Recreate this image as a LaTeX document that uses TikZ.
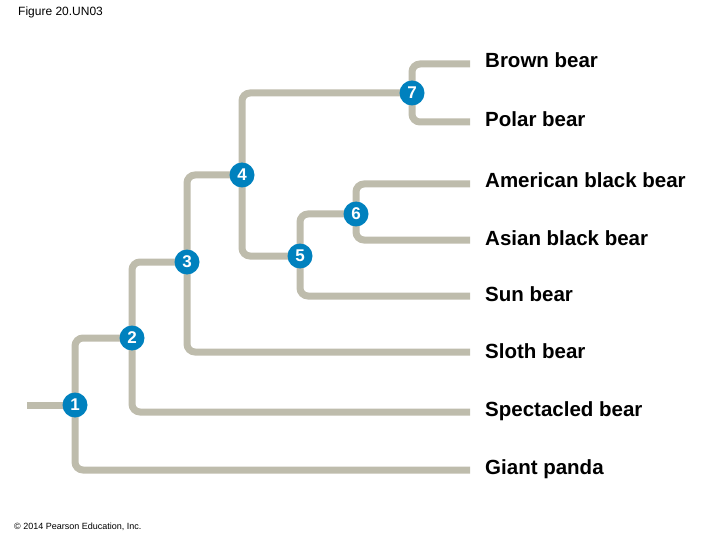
\documentclass[tikz,border=0pt]{standalone}
\usepackage{fontspec}
\setmainfont{Liberation Sans}
\usetikzlibrary{backgrounds}
\definecolor{branchgray}{RGB}{190,188,172}
\definecolor{nodeblue}{RGB}{0,129,190}
\tikzset{
  branch/.style={draw=branchgray, line width=7pt, rounded corners=8pt},
  numnode/.style={circle, fill=nodeblue, text=white, inner sep=0pt, minimum size=25pt,
    font=\fontsize{17}{17}\selectfont\bfseries},
  taxon/.style={anchor=base west, inner sep=0pt, font=\fontsize{20.5}{24}\selectfont\bfseries}
}
\begin{document}
\begin{tikzpicture}[x=1pt,y=-1pt]
\useasboundingbox (0,0) rectangle (720,540);
% internal nodes
\node[numnode] (n1) at (75,405) {1};
\node[numnode] (n2) at (132,338) {2};
\node[numnode] (n3) at (187,262) {3};
\node[numnode] (n4) at (242,175) {4};
\node[numnode] (n5) at (300,256) {5};
\node[numnode] (n6) at (356,214) {6};
\node[numnode] (n7) at (412,93) {7};
% branch tips
\coordinate (root) at (27,405);
\coordinate (tbrown) at (470,64);
\coordinate (tpolar) at (470,122);
\coordinate (tamer) at (470,184);
\coordinate (tasian) at (470,240);
\coordinate (tsun) at (470,296);
\coordinate (tsloth) at (470,352);
\coordinate (tspect) at (470,412);
\coordinate (tpanda) at (470,470);
% labels
\node[taxon] (lbrown) at (485,68) {Brown bear};
\node[taxon] (lpolar) at (485,127) {Polar bear};
\node[taxon] (lamer) at (485,188) {American black bear};
\node[taxon] (lasian) at (485,245) {Asian black bear};
\node[taxon] (lsun) at (485,301) {Sun bear};
\node[taxon] (lsloth) at (485,358) {Sloth bear};
\node[taxon] (lspect) at (485,416) {Spectacled bear};
\node[taxon] (lpanda) at (485,474) {Giant panda};
% branches
\begin{pgfonlayer}{background}
\draw[branch] (root) -- (n1.center);
\draw[branch] (n1.center) |- (n2.center);
\draw[branch] (n1.center) |- (tpanda);
\draw[branch] (n2.center) |- (n3.center);
\draw[branch] (n2.center) |- (tspect);
\draw[branch] (n3.center) |- (n4.center);
\draw[branch] (n3.center) |- (tsloth);
\draw[branch] (n4.center) |- (n7.center);
\draw[branch] (n4.center) |- (n5.center);
\draw[branch] (n5.center) |- (n6.center);
\draw[branch] (n5.center) |- (tsun);
\draw[branch] (n6.center) |- (tamer);
\draw[branch] (n6.center) |- (tasian);
\draw[branch] (n7.center) |- (tbrown);
\draw[branch] (n7.center) |- (tpolar);
\end{pgfonlayer}
% captions
\node[anchor=west, inner sep=0pt, font=\fontsize{12}{14}\selectfont] (title) at (18,12) {Figure 20.UN03};
\node[anchor=west, inner sep=0pt, font=\fontsize{9}{11}\selectfont] (copy) at (14,527) {© 2014 Pearson Education, Inc.};
\end{tikzpicture}
\end{document}
